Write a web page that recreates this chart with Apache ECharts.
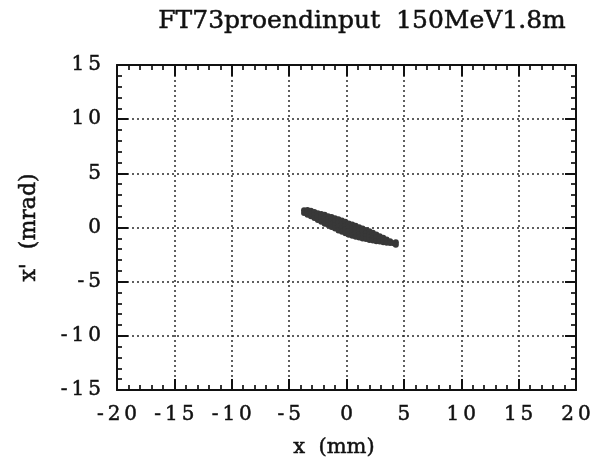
<!DOCTYPE html>
<html>
<head>
<meta charset="utf-8">
<title>FT73proendinput 150MeV1.8m</title>
<script src="https://cdn.jsdelivr.net/npm/echarts@6/dist/echarts.min.js"></script>
<style>
  html, body { margin: 0; padding: 0; background: #ffffff; }
  #chart { width: 594px; height: 468px; }
</style>
</head>
<body>
<div id="chart"></div>
<script>
// Horizontal phase space of the beam at the end of the input line
const titleText = 'FT73proendinput  150MeV1.8m';
const xAxisName = 'x  (mm)';
const yAxisName = "x'  (mrad)";

// axis ranges and major tick steps
const xRange = [-20, 20];
const xStep = 5;
const yRange = [-15, 15];
const yStep = 5;

// particle positions x (mm)
const beamX = [
  -3.7, -3.7,
  -3.4, -3.4, -3.4,
  -3.1, -3.1, -3.1,
  -2.8, -2.8, -2.8,
  -2.5, -2.5, -2.5,
  -2.2, -2.2, -2.2, -2.2,
  -1.9, -1.9, -1.9, -1.9,
  -1.6, -1.6, -1.6, -1.6,
  -1.3, -1.3, -1.3, -1.3,
  -1.0, -1.0, -1.0, -1.0,
  -0.7, -0.7, -0.7, -0.7,
  -0.4, -0.4, -0.4, -0.4,
  -0.1, -0.1, -0.1, -0.1,
  0.2, 0.2, 0.2, 0.2,
  0.5, 0.5, 0.5, 0.5,
  0.8, 0.8, 0.8, 0.8,
  1.1, 1.1, 1.1, 1.1,
  1.4, 1.4, 1.4, 1.4,
  1.7, 1.7, 1.7, 1.7,
  2.0, 2.0, 2.0, 2.0,
  2.3, 2.3, 2.3, 2.3,
  2.6, 2.6, 2.6,
  2.9, 2.9, 2.9,
  3.2, 3.2, 3.2,
  3.5, 3.5, 3.5,
  3.8, 3.8,
  4.1,
  4.3, 4.3
];

// particle angles x' (mrad), same order as beamX
const beamXp = [
  1.60, 1.35,
  1.62, 1.40, 1.18,
  1.55, 1.30, 1.05,
  1.42, 1.15, 0.88,
  1.32, 1.02, 0.70,
  1.25, 1.00, 0.76, 0.53,
  1.17, 0.90, 0.62, 0.35,
  1.05, 0.77, 0.50, 0.22,
  0.97, 0.66, 0.35, 0.04,
  0.86, 0.54, 0.23, -0.09,
  0.77, 0.43, 0.08, -0.27,
  0.64, 0.30, -0.05, -0.40,
  0.52, 0.17, -0.17, -0.52,
  0.37, 0.02, -0.32, -0.67,
  0.27, -0.08, -0.42, -0.77,
  0.16, -0.18, -0.52, -0.86,
  0.02, -0.30, -0.60, -0.92,
  -0.09, -0.40, -0.70, -1.01,
  -0.24, -0.52, -0.78, -1.06,
  -0.34, -0.62, -0.88, -1.16,
  -0.49, -0.73, -0.97, -1.21,
  -0.64, -0.95, -1.26,
  -0.80, -1.05, -1.30,
  -0.95, -1.15, -1.36,
  -1.10, -1.25, -1.40,
  -1.28, -1.42,
  -1.45,
  -1.35, -1.60
];

const serif = '"DejaVu Serif", "Liberation Serif", serif';
const ink = '#111111';

// spread the characters of a tick label a little apart
function spaced(value) {
  return String(value).split('').join('\u2009');
}

function textStyle(size) {
  return {
    fontFamily: serif,
    fontSize: size,
    fontWeight: 'normal',
    color: ink,
    textBorderColor: ink,
    textBorderWidth: 0.5
  };
}

function frameAxis(position, range, step, main) {
  const horizontal = position === 'bottom' || position === 'top';
  return {
    type: 'value',
    position: position,
    min: range[0],
    max: range[1],
    interval: step,
    axisLine: { show: true, onZero: false, lineStyle: { color: ink, width: 2 } },
    axisTick: { show: true, inside: true, length: 11, lineStyle: { color: ink, width: 2 } },
    minorTick: { show: true, splitNumber: 5, length: 5, lineStyle: { color: ink, width: 1.7 } },
    splitLine: {
      show: main,
      lineStyle: { color: '#2a2a2a', width: 1.5, type: [2, 3] }
    },
    minorSplitLine: { show: false },
    axisLabel: Object.assign({
      show: main,
      margin: horizontal ? 15 : 16,
      formatter: spaced
    }, textStyle(20))
  };
}

const xMain = Object.assign(frameAxis('bottom', xRange, xStep, true), {
  name: xAxisName,
  nameLocation: 'middle',
  nameGap: 47,
  nameTextStyle: Object.assign(textStyle(21), { padding: [0, 25, 0, 0] })
});
const yMain = Object.assign(frameAxis('left', yRange, yStep, true), {
  name: yAxisName,
  nameLocation: 'middle',
  nameGap: 77,
  nameTextStyle: textStyle(22)
});

const points = beamX.map((x, i) => [x, beamXp[i]]);

const chart = echarts.init(document.getElementById('chart'), null, { renderer: 'canvas' });
chart.setOption({
  backgroundColor: '#ffffff',
  animation: false,
  title: {
    text: titleText,
    left: 357,
    top: 4,
    textAlign: 'center',
    textStyle: textStyle(25)
  },
  grid: { left: 117, right: 18, top: 65, bottom: 78, containLabel: false },
  xAxis: [xMain, frameAxis('top', xRange, xStep, false)],
  yAxis: [yMain, frameAxis('right', yRange, yStep, false)],
  series: [{
    type: 'scatter',
    xAxisIndex: 0,
    yAxisIndex: 0,
    data: points,
    symbol: 'circle',
    symbolSize: 6,
    itemStyle: { color: '#383838', opacity: 1 },
    z: 3
  }]
});
</script>
</body>
</html>
